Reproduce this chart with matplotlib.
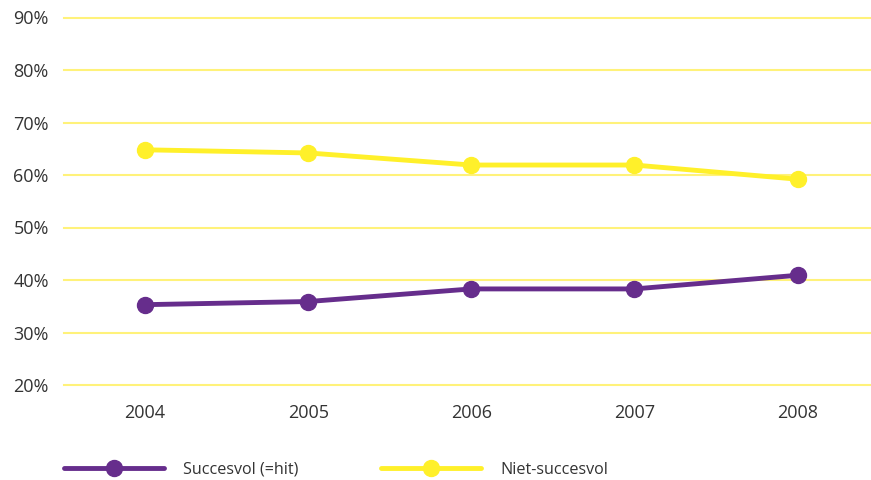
import matplotlib
matplotlib.use("Agg")
import matplotlib.pyplot as plt

years = ["2004", "2005", "2006", "2007", "2008"]
succesvol = [35.3, 35.9, 38.3, 38.3, 40.9]
niet_succesvol = [64.8, 64.2, 61.9, 61.9, 59.2]
yticks = [20, 30, 40, 50, 60, 70, 80, 90]

purple = "#662d8c"
yellow = "#fff02a"
grid_col = "#fff27a"
text_col = "#333333"

plt.rcParams['font.family'] = ['Open Sans', 'DejaVu Sans']

fig = plt.figure(figsize=(8.71, 4.80), dpi=100)
ax = fig.add_axes([64/871, 1 - 385/480, 1 - 64/871, (385 - 17.5)/480])

x = range(len(years))
ax.plot(x, succesvol, color=purple, lw=3.5, marker='o', ms=11.5,
        solid_capstyle='round', label="Succesvol (=hit)", zorder=3)
ax.plot(x, niet_succesvol, color=yellow, lw=3.5, marker='o', ms=11.5,
        solid_capstyle='round', label="Niet-succesvol", zorder=3)

ax.set_ylim(20, 90)
ax.set_xlim(-0.497, 4.45)
ax.set_yticks(yticks)
ax.set_yticklabels([f"{v}%" for v in yticks])
ax.set_xticks(list(x))
ax.set_xticklabels(years)
for v in yticks:
    ax.axhline(v, color=grid_col, lw=1.5, zorder=1, clip_on=False)

for s in ax.spines.values():
    s.set_visible(False)
ax.tick_params(axis='y', length=0, pad=11, labelsize=13, colors=text_col)
ax.tick_params(axis='x', length=0, pad=14, labelsize=13, colors=text_col)

fig.legend(loc='center left', bbox_to_anchor=(64/871, 1 - 470/480), ncol=2,
           frameon=False, fontsize=11.6, handlelength=6.2, handletextpad=1.2,
           columnspacing=5.1, borderpad=0, borderaxespad=0, labelcolor=text_col)

fig.savefig("out.png", dpi=100)
